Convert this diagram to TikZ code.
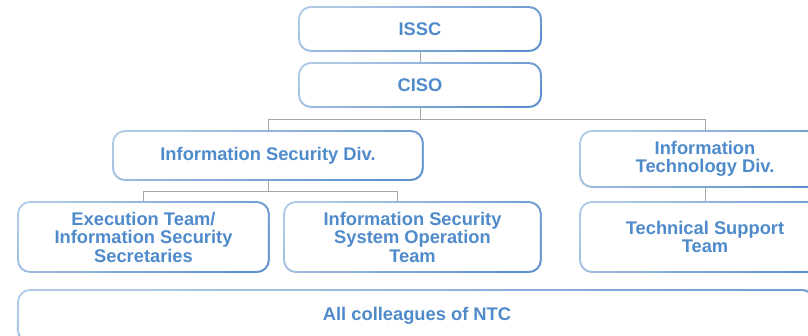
\documentclass[tikz,border=0pt]{standalone}
\usepackage{fontspec}
\setmainfont{Liberation Sans}
\usetikzlibrary{fadings}
\definecolor{boxlight}{HTML}{AFC8E6}
\definecolor{boxdark}{HTML}{5E92CE}
\definecolor{txtblue}{HTML}{4F8BCB}
\definecolor{conngray}{HTML}{A6A6A6}
\tikzfading[name=darkside, left color=transparent!100, right color=transparent!0]
\tikzset{
  orgbox/.style={draw=boxlight, line width=1.8pt, rounded corners=12pt, fill=white,
    text=txtblue, align=center, inner sep=0pt,
    font=\bfseries\fontsize{18.3}{18.5}\selectfont,
    postaction={draw=boxdark, line width=1.8pt, path fading=darkside, fading angle=-20}},
  conn/.style={draw=conngray, line width=0.9pt}
}
\begin{document}
\begin{tikzpicture}[x=1pt,y=-1pt]
\useasboundingbox (0,0) rectangle (808,335);
\clip (0,0) rectangle (808,335);
\fill[white] (0,0) rectangle (808,335);
\node[orgbox, minimum width=242pt, minimum height=44pt] (issc) at (420,29) {ISSC};
\node[orgbox, minimum width=242pt, minimum height=44pt] (ciso) at (420,85) {CISO};
\node[orgbox, minimum width=310pt, minimum height=49pt] (isd) at (268,155.5) {Information Security Div.};
\node[orgbox, minimum width=250pt, minimum height=56pt] (itd) at (705,159) {Information\\Technology Div.};
\node[orgbox, minimum width=251pt, minimum height=70pt] (exe) at (143.5,237) {Execution Team/\\Information Security\\Secretaries};
\node[orgbox, minimum width=257pt, minimum height=70pt] (isso) at (412.5,237) {Information Security\\System Operation\\Team};
\node[orgbox, minimum width=250pt, minimum height=70pt] (tst) at (705,237) {Technical Support\\Team};
\node[orgbox, minimum width=798pt, minimum height=52pt] (all) at (417,316) {All colleagues of NTC};
\draw[conn] (issc.south) -- (ciso.north);
\draw[conn] (ciso.south) -- ++(0,12) coordinate (j1);
\draw[conn] (j1) -| (isd.north);
\draw[conn] (j1) -| (itd.north);
\draw[conn] (isd.south) -- ++(0,11) coordinate (j2);
\draw[conn] (j2) -| (exe.north);
\draw[conn] (j2) -| ([xshift=-15pt]isso.north);
\draw[conn] (itd.south) -- (tst.north);
\end{tikzpicture}
\end{document}
